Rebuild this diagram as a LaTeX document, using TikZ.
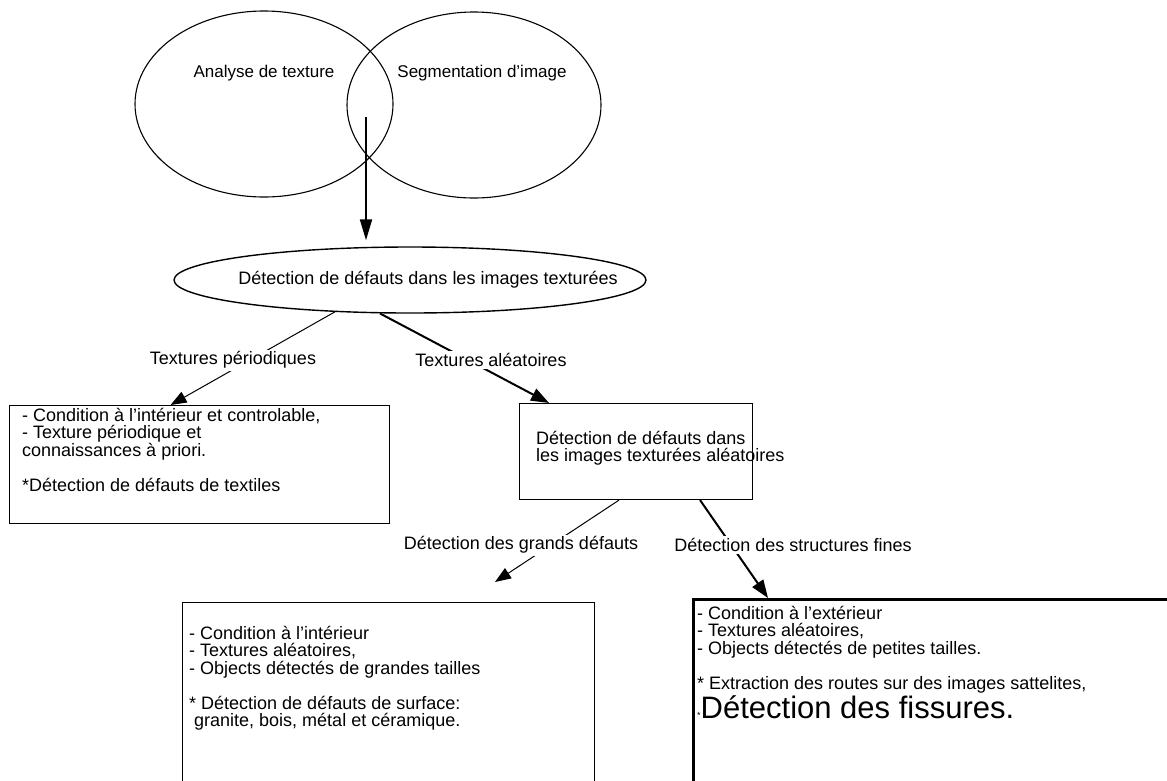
\documentclass[tikz,border=0pt]{standalone}
\usepackage{fontspec}
\setmainfont{Liberation Sans}
\usetikzlibrary{shapes.geometric,arrows.meta}
\begin{document}
\begin{tikzpicture}[x=1pt,y=-1pt,
  every node/.style={font=\fontsize{18}{17.5}\selectfont, inner sep=0pt},
  venn/.style={ellipse, draw, line width=1.1pt, inner sep=0pt},
  venntxt/.style={font=\fontsize{17}{17}\selectfont},
  boxnode/.style={draw, rectangle, line width=1.1pt, inner sep=0pt, anchor=north west},
  txt/.style={anchor=north west, align=left},
  lbl/.style={fill=white, inner sep=2pt},
  thinarrow/.style={line width=1pt, -{Triangle[length=16pt,width=12pt]}},
  thickarrow/.style={line width=2pt, -{Triangle[length=18pt,width=13pt]}},
]
\useasboundingbox (0,0) rectangle (1167,780);
\clip (0,0) rectangle (1167,780);

% Venn ellipses
\node[venn, minimum width=258, minimum height=186] (ana) at (264,104) {};
\node[venn, minimum width=254, minimum height=186] (seg) at (474,105) {};
\node[venntxt] (anat) at (264,73) {Analyse de texture};
\node[venntxt] (segt) at (482,73) {Segmentation d’image};

% central ellipse
\node[venn, line width=1.4pt, minimum width=472, minimum height=66] (det) at (410,280) {};
\node (dett) at (428,280) {Détection de défauts dans les images texturées};

\coordinate (lens) at (366,117);
\draw[line width=2pt, -{Triangle[length=21pt,width=12pt]}, shorten >=6pt] (lens) -- (lens |- det.north);

% boxes
\node[boxnode, minimum width=380, minimum height=118] (b1) at (9,405) {};
\node[txt] (b1t) at (22,408) {- Condition à l’intérieur et controlable,\\- Texture périodique et\\connaissances à priori.\\[17.5pt]*Détection de défauts de textiles};

\node[boxnode, minimum width=233, minimum height=96] (b2) at (519,403) {};
\node[txt] (b2t) at (536,431) {Détection de défauts dans\\les images texturées aléatoires};

\node[boxnode, minimum width=412, minimum height=220] (b3) at (182,602) {};
\node[txt] (b3t) at (189,626) {- Condition à l’intérieur\\- Textures aléatoires,\\- Objects détectés de grandes tailles\\[17.5pt]* Détection de défauts de surface:\\ \ granite, bois, métal et céramique.};

\node[boxnode, line width=2.5pt, minimum width=520, minimum height=220] (b4) at (692,598) {};
\node[txt] (b4t) at (697,606) {- Condition à l’extérieur\\- Textures aléatoires,\\- Objects détectés de petites tailles.\\[17.5pt]* Extraction des routes sur des images sattelites,\\[1pt]{\fontsize{9}{9}\selectfont*}{\fontsize{31}{31}\selectfont Détection des fissures.}};

% connectors
\draw[thinarrow] (det.203) -- ([xshift=-29]b1.north);
\node[lbl] (lp) at (233,360) {Textures périodiques};
\draw[thickarrow] (det.228) -- ([xshift=-87]b2.north);
\node[lbl] (la) at (491,360) {Textures aléatoires};
\coordinate (c3) at (495,582);
\draw[thinarrow] ([xshift=-17]b2.south) -- (c3);
\node[lbl] (lg) at (521,545) {Détection des grands défauts};
\draw[thickarrow] ([xshift=64]b2.south) -- ([xshift=76]b4.north west);
\node[lbl] (ls) at (793,545) {Détection des structures fines};
\end{tikzpicture}
\end{document}
